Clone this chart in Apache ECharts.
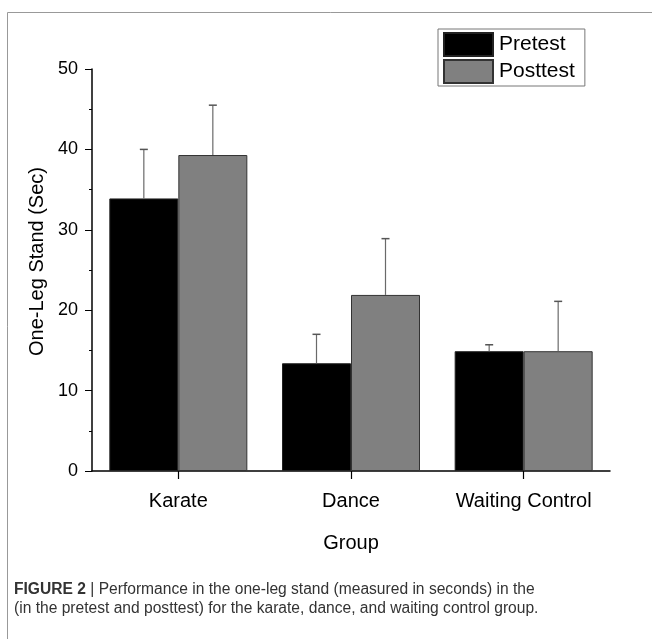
<!DOCTYPE html>
<html>
<head>
<meta charset="utf-8">
<script src="https://cdn.jsdelivr.net/npm/echarts@6/dist/echarts.min.js"></script>
<style>
  html, body { margin: 0; padding: 0; background: #fff; }
  #chart { width: 652px; height: 639px; }
</style>
</head>
<body>
<div id="chart"></div>
<script>
const groups = ['Karate', 'Dance', 'Waiting Control'];
const pretest = [33.9, 13.4, 14.9];
const posttest = [39.3, 21.9, 14.9];
// upper error (SD)
const pretestErr = [6.1, 3.6, 0.8];
const posttestErr = [6.2, 7.0, 6.2];
const yTicks = [0, 10, 20, 30, 40, 50];

const FONT = '"Liberation Sans", Arial, sans-serif';
const BAR_W = 69;

const chart = echarts.init(document.getElementById('chart'));

function errorSeries(name, means, errs, offset) {
  return {
    type: 'custom',
    name: name + ' err',
    z: 3,
    silent: true,
    data: means.map((m, i) => [i, m, m + errs[i]]),
    renderItem: (params, api) => {
      const lo = api.coord([api.value(0), api.value(1)]);
      const hi = api.coord([api.value(0), api.value(2)]);
      const x = lo[0] + offset;
      return {
        type: 'group',
        children: [
          { type: 'line', shape: { x1: x, y1: lo[1], x2: x, y2: hi[1] },
            style: { stroke: '#6a6a6a', lineWidth: 1.2 } },
          { type: 'line', shape: { x1: x - 4, y1: hi[1], x2: x + 4, y2: hi[1] },
            style: { stroke: '#555', lineWidth: 1.5 } }
        ]
      };
    }
  };
}

const option = {
  animation: false,
  backgroundColor: '#fff',
  textStyle: { fontFamily: FONT },
  title: {
    left: 14,
    top: 580,
    padding: 0,
    text: '{b|FIGURE 2} | Performance in the one-leg stand (measured in seconds) in the\n(in the pretest and posttest) for the karate, dance, and waiting control group.',
    textStyle: {
      fontFamily: FONT,
      fontSize: 15.6, fontWeight: 'normal', color: '#333', lineHeight: 19,
      rich: { b: { fontWeight: 'bold', fontSize: 15.6, color: '#333', fontFamily: FONT } }
    }
  },
  graphic: [
    { type: 'polyline', shape: { points: [[7.5, 700], [7.5, 12.5], [700, 12.5]] },
      style: { stroke: '#999', lineWidth: 1, fill: null } }
  ],
  legend: {
    orient: 'vertical',
    left: 438,
    top: 29,
    padding: [3, 10, 2, 5],
    itemGap: 2,
    itemWidth: 49,
    itemHeight: 23,
    borderColor: '#777',
    borderWidth: 1,
    icon: 'rect',
    data: ['Pretest', 'Posttest'],
    textStyle: { fontSize: 21, color: '#000', fontFamily: FONT, padding: [0, 0, 0, 1] }
  },
  grid: { left: 92, right: 42, top: 69, bottom: 168 },
  xAxis: {
    type: 'category',
    data: groups,
    name: 'Group',
    nameLocation: 'middle',
    nameGap: 62,
    nameTextStyle: { fontSize: 20, color: '#000' },
    axisLine: { lineStyle: { color: '#000', width: 1.5 } },
    axisTick: { show: true, alignWithLabel: true, interval: 0, length: 8,
      lineStyle: { color: '#000', width: 1.2 } },
    axisLabel: { fontSize: 20, color: '#000', margin: 20, interval: 0, hideOverlap: false }
  },
  yAxis: {
    type: 'value',
    min: yTicks[0],
    max: yTicks[yTicks.length - 1],
    interval: 10,
    name: 'One-Leg Stand (Sec)',
    nameLocation: 'middle',
    nameGap: 44,
    nameTextStyle: { fontSize: 20, color: '#000', padding: [0, 0, 0, 17] },
    axisLine: { show: true, lineStyle: { color: '#000', width: 1.5 } },
    axisTick: { show: true, length: 7, lineStyle: { color: '#000' } },
    minorTick: { show: true, splitNumber: 2, length: 3, lineStyle: { color: '#000' } },
    splitLine: { show: false },
    axisLabel: { fontSize: 18, color: '#000', margin: 14 }
  },
  series: [
    {
      name: 'Pretest', type: 'bar', barWidth: BAR_W, barGap: '0%',
      data: pretest,
      itemStyle: { color: '#000', borderColor: '#222', borderWidth: 1 }
    },
    {
      name: 'Posttest', type: 'bar', barWidth: BAR_W, barGap: '0%',
      data: posttest,
      itemStyle: { color: '#808080', borderColor: '#333', borderWidth: 1 }
    },
    errorSeries('Pretest', pretest, pretestErr, -BAR_W / 2),
    errorSeries('Posttest', posttest, posttestErr, BAR_W / 2)
  ]
};

chart.setOption(option);
</script>
</body>
</html>
